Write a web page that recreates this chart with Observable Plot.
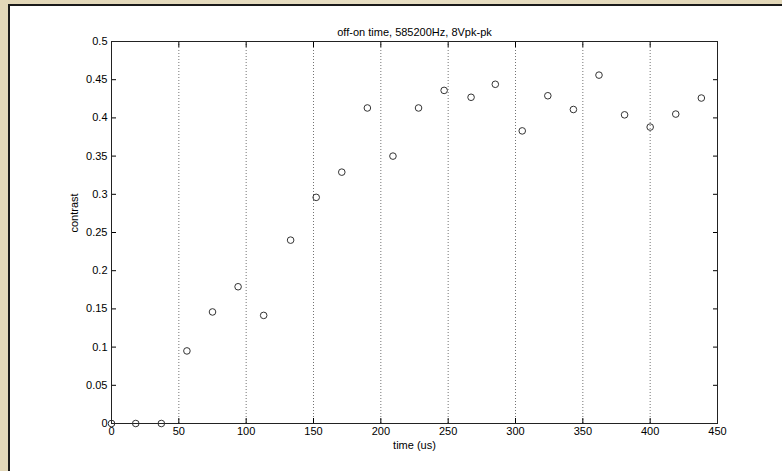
<!DOCTYPE html>
<html><head><meta charset="utf-8">
<script src="https://cdn.jsdelivr.net/npm/d3@7"></script>
<script src="https://cdn.jsdelivr.net/npm/@observablehq/plot@0.6"></script>
<style>
html,body{margin:0;padding:0;background:#e4dabd;}
#wrap{position:relative;width:782px;height:471px;background:linear-gradient(90deg,#e2d7b8,#e8dfc4 50%,#e2d7b8);overflow:hidden;}
#paper{position:absolute;left:8px;top:4px;right:0;bottom:0;background:#fff;border-left:2px solid #1a1a1a;border-top:2px solid #1a1a1a;}
#chart{position:absolute;left:0;top:0;}
</style></head>
<body><div id="wrap"><div id="paper"></div><div id="chart"></div></div>
<script>
const time = [0, 18, 37, 56, 75, 94, 113, 133, 152, 171, 190, 209, 228, 247, 267, 285, 305, 324, 343, 362, 381, 400, 419, 438];
const contrast = [0, 0, 0, 0.095, 0.146, 0.179, 0.1415, 0.240, 0.296, 0.329, 0.413, 0.350, 0.413, 0.436, 0.427, 0.444, 0.383, 0.429, 0.411, 0.456, 0.404, 0.388, 0.405, 0.426];
const xTicks = [0, 50, 100, 150, 200, 250, 300, 350, 400, 450];
const yTicks = [0, 0.05, 0.1, 0.15, 0.2, 0.25, 0.3, 0.35, 0.4, 0.45, 0.5];
const gridTicks = [50, 100, 150, 200, 250, 300, 350, 400];
const title = "off-on time, 585200Hz, 8Vpk-pk";
const xLabel = "time (us)";
const yLabel = "contrast";

const data = time.map((t, i) => ({time: t, contrast: contrast[i]}));
const fmt = d => String(+d.toFixed(2));
const blank = () => "";

const chart = Plot.plot({
  width: 782, height: 471,
  marginLeft: 111, marginRight: 65, marginTop: 41, marginBottom: 48,
  style: {fontFamily: '"Liberation Sans", Arial, sans-serif', fontSize: "11px", color: "#000", background: "transparent"},
  x: {domain: [0, 450]},
  y: {domain: [0, 0.5]},
  marks: [
    Plot.gridX(gridTicks, {stroke: "#000", strokeOpacity: 0.55, strokeDasharray: "1,2"}),
    Plot.axisX(xTicks, {anchor: "bottom", tickSize: -5, tickFormat: blank, label: null}),
    Plot.axisX(xTicks, {anchor: "top", tickSize: -5, tickFormat: blank, label: null}),
    Plot.axisY(yTicks, {anchor: "left", tickSize: -5, tickFormat: blank, label: null}),
    Plot.axisY(yTicks, {anchor: "right", tickSize: -5, tickFormat: blank, label: null}),
    Plot.axisX(xTicks, {anchor: "bottom", tickSize: 0, tickPadding: 4, tickFormat: fmt, label: null}),
    Plot.axisY(yTicks, {anchor: "left", tickSize: 0, tickPadding: 4, tickFormat: fmt, label: null}),
    Plot.frame({stroke: "#222"}),
    Plot.dot(data, {x: "time", y: "contrast", r: 3.3, stroke: "#333", strokeWidth: 1, fill: "none"}),
    Plot.text([title], {frameAnchor: "top", dy: -13, text: d => d}),
    Plot.text([xLabel], {frameAnchor: "bottom", dy: 25.5, text: d => d}),
    Plot.text([yLabel], {frameAnchor: "left", dx: -37, rotate: -90, text: d => d})
  ]
});
document.getElementById("chart").appendChild(chart);
</script>
</body></html>
